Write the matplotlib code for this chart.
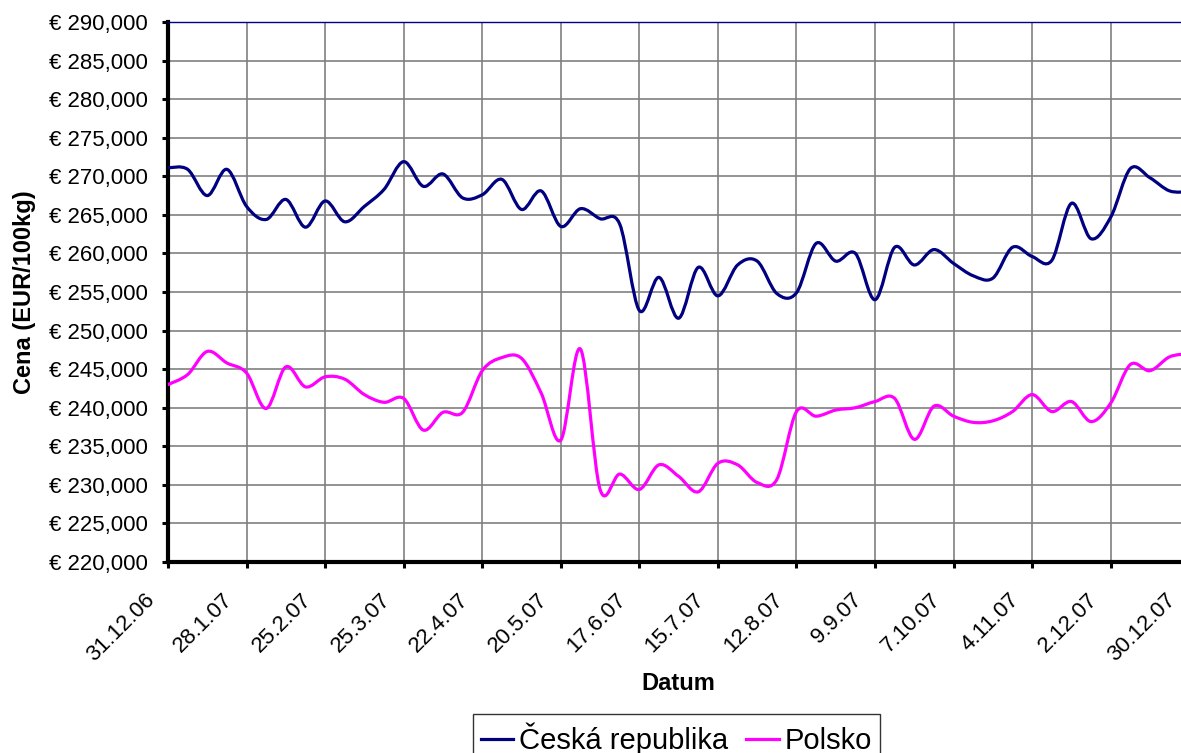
import numpy as np
import matplotlib
matplotlib.use("Agg")
import matplotlib.pyplot as plt
from matplotlib.path import Path
from matplotlib.patches import PathPatch
from matplotlib.lines import Line2D
from matplotlib.ticker import FuncFormatter
from matplotlib.transforms import ScaledTranslation

# weekly prices, 31.12.06 .. 30.12.07 (EUR/100kg)
weeks = np.arange(53)
cz = [271.1, 270.9, 267.5, 270.9, 266.1, 264.4, 267.0, 263.4, 266.8, 264.1,
      266.1, 268.3, 271.9, 268.7, 270.3, 267.2, 267.6, 269.6, 265.7, 268.1,
      263.5, 265.8, 264.5, 263.8, 252.6, 256.9, 251.6, 258.2, 254.5, 258.5,
      259.0, 254.8, 254.9, 261.3, 259.0, 260.0, 254.0, 260.8, 258.5, 260.5,
      258.7, 257.1, 256.8, 260.8, 259.6, 259.1, 266.5, 261.9, 264.7, 271.0,
      269.8, 268.1, 268.0]
pl = [243.0, 244.3, 247.3, 245.8, 244.5, 239.9, 245.3, 242.7, 244.0, 243.7,
      241.7, 240.7, 241.2, 237.1, 239.4, 239.4, 244.8, 246.5, 246.4, 241.9,
      235.8, 247.6, 229.4, 231.4, 229.4, 232.6, 231.1, 229.1, 232.8, 232.6,
      230.3, 230.7, 239.5, 238.9, 239.7, 240.0, 240.8, 241.2, 235.9, 240.2,
      238.9, 238.1, 238.3, 239.5, 241.7, 239.5, 240.8, 238.2, 240.6, 245.6,
      244.8, 246.6, 247.0]
tick_weeks = np.arange(0, 53, 4)
tick_labels = ["31.12.06", "28.1.07", "25.2.07", "25.3.07", "22.4.07", "20.5.07",
               "17.6.07", "15.7.07", "12.8.07", "9.9.07", "7.10.07", "4.11.07",
               "2.12.07", "30.12.07"]
series = [("Česká republika", cz, "#000080"), ("Polsko", pl, "#FF00FF")]

plt.rcParams['font.family'] = ['Liberation Sans', 'DejaVu Sans']


def smooth_path(x, y):
    # Excel-like smoothed line: cubic bezier through the points
    pts = np.column_stack([x, y]).astype(float)
    n = len(pts)
    verts = [pts[0]]
    codes = [Path.MOVETO]
    for i in range(n - 1):
        p0 = pts[max(i - 1, 0)]
        p1 = pts[i]
        p2 = pts[i + 1]
        p3 = pts[min(i + 2, n - 1)]
        verts += [p1 + (p2 - p0) / 6, p2 - (p3 - p1) / 6, p2]
        codes += [Path.CURVE4] * 3
    return Path(verts, codes)


W, H = 1181, 753
fig = plt.figure(figsize=(W / 100, H / 100), dpi=100)
left, right, top, bottom = 168, 1189.3, 22, 562
ax = fig.add_axes([left / W, 1 - bottom / H, (right - left) / W, (bottom - top) / H])

handles = []
for name, vals, col in series:
    ax.add_patch(PathPatch(smooth_path(weeks, vals), fill=False, edgecolor=col,
                           lw=2.3, zorder=3, capstyle='round', joinstyle='round'))
    handles.append(Line2D([], [], color=col, lw=2.3, label=name))

ax.set_xlim(0, 52)
ax.set_ylim(220, 290)
ax.set_yticks(np.arange(220, 291, 5))
ax.yaxis.set_major_formatter(FuncFormatter(lambda v, p: "€ " + f"{v:.3f}".replace(".", ",")))
ax.set_xticks(tick_weeks)
ax.set_xticklabels([])
ax.tick_params(axis='both', direction='out', length=4, width=2.2, labelsize=16, colors='black')
ax.tick_params(axis='y', pad=10.5)
ax.grid(True, color='#808080', lw=1.2)
ax.set_axisbelow(True)

# rotated date labels, placed like the Excel ones
off = ScaledTranslation(-24 / 100, -27 / 100, fig.dpi_scale_trans)
for wk, lab in zip(tick_weeks, tick_labels):
    ax.text(wk, 0, lab, transform=ax.get_xaxis_transform() + off, rotation=45,
            ha='right', va='top', rotation_mode='anchor', fontsize=16, clip_on=False)

for s in ['left', 'bottom']:
    ax.spines[s].set_linewidth(3)
    ax.spines[s].set_color('black')
ax.spines['top'].set_color('#000080')
ax.spines['top'].set_linewidth(1)
ax.spines['right'].set_visible(False)

fig.text(678.5 / W, 1 - 683 / H, "Datum", fontsize=17, fontweight='bold',
         ha='center', va='center')
fig.text(25 / W, 1 - 292 / H, "Cena (EUR/100kg)", rotation=90, fontsize=17,
         fontweight='bold', ha='center', va='center')

leg = fig.legend(handles=handles, loc='upper center', bbox_to_anchor=(676.5 / W, 1 - 714 / H),
                 ncol=2, fontsize=21, frameon=True, fancybox=False, handlelength=1.1,
                 handletextpad=0.2, columnspacing=0.62, borderpad=0.3, borderaxespad=0)
leg.get_frame().set_edgecolor('black')
leg.get_frame().set_linewidth(1)

fig.savefig("out.png", dpi=100)
